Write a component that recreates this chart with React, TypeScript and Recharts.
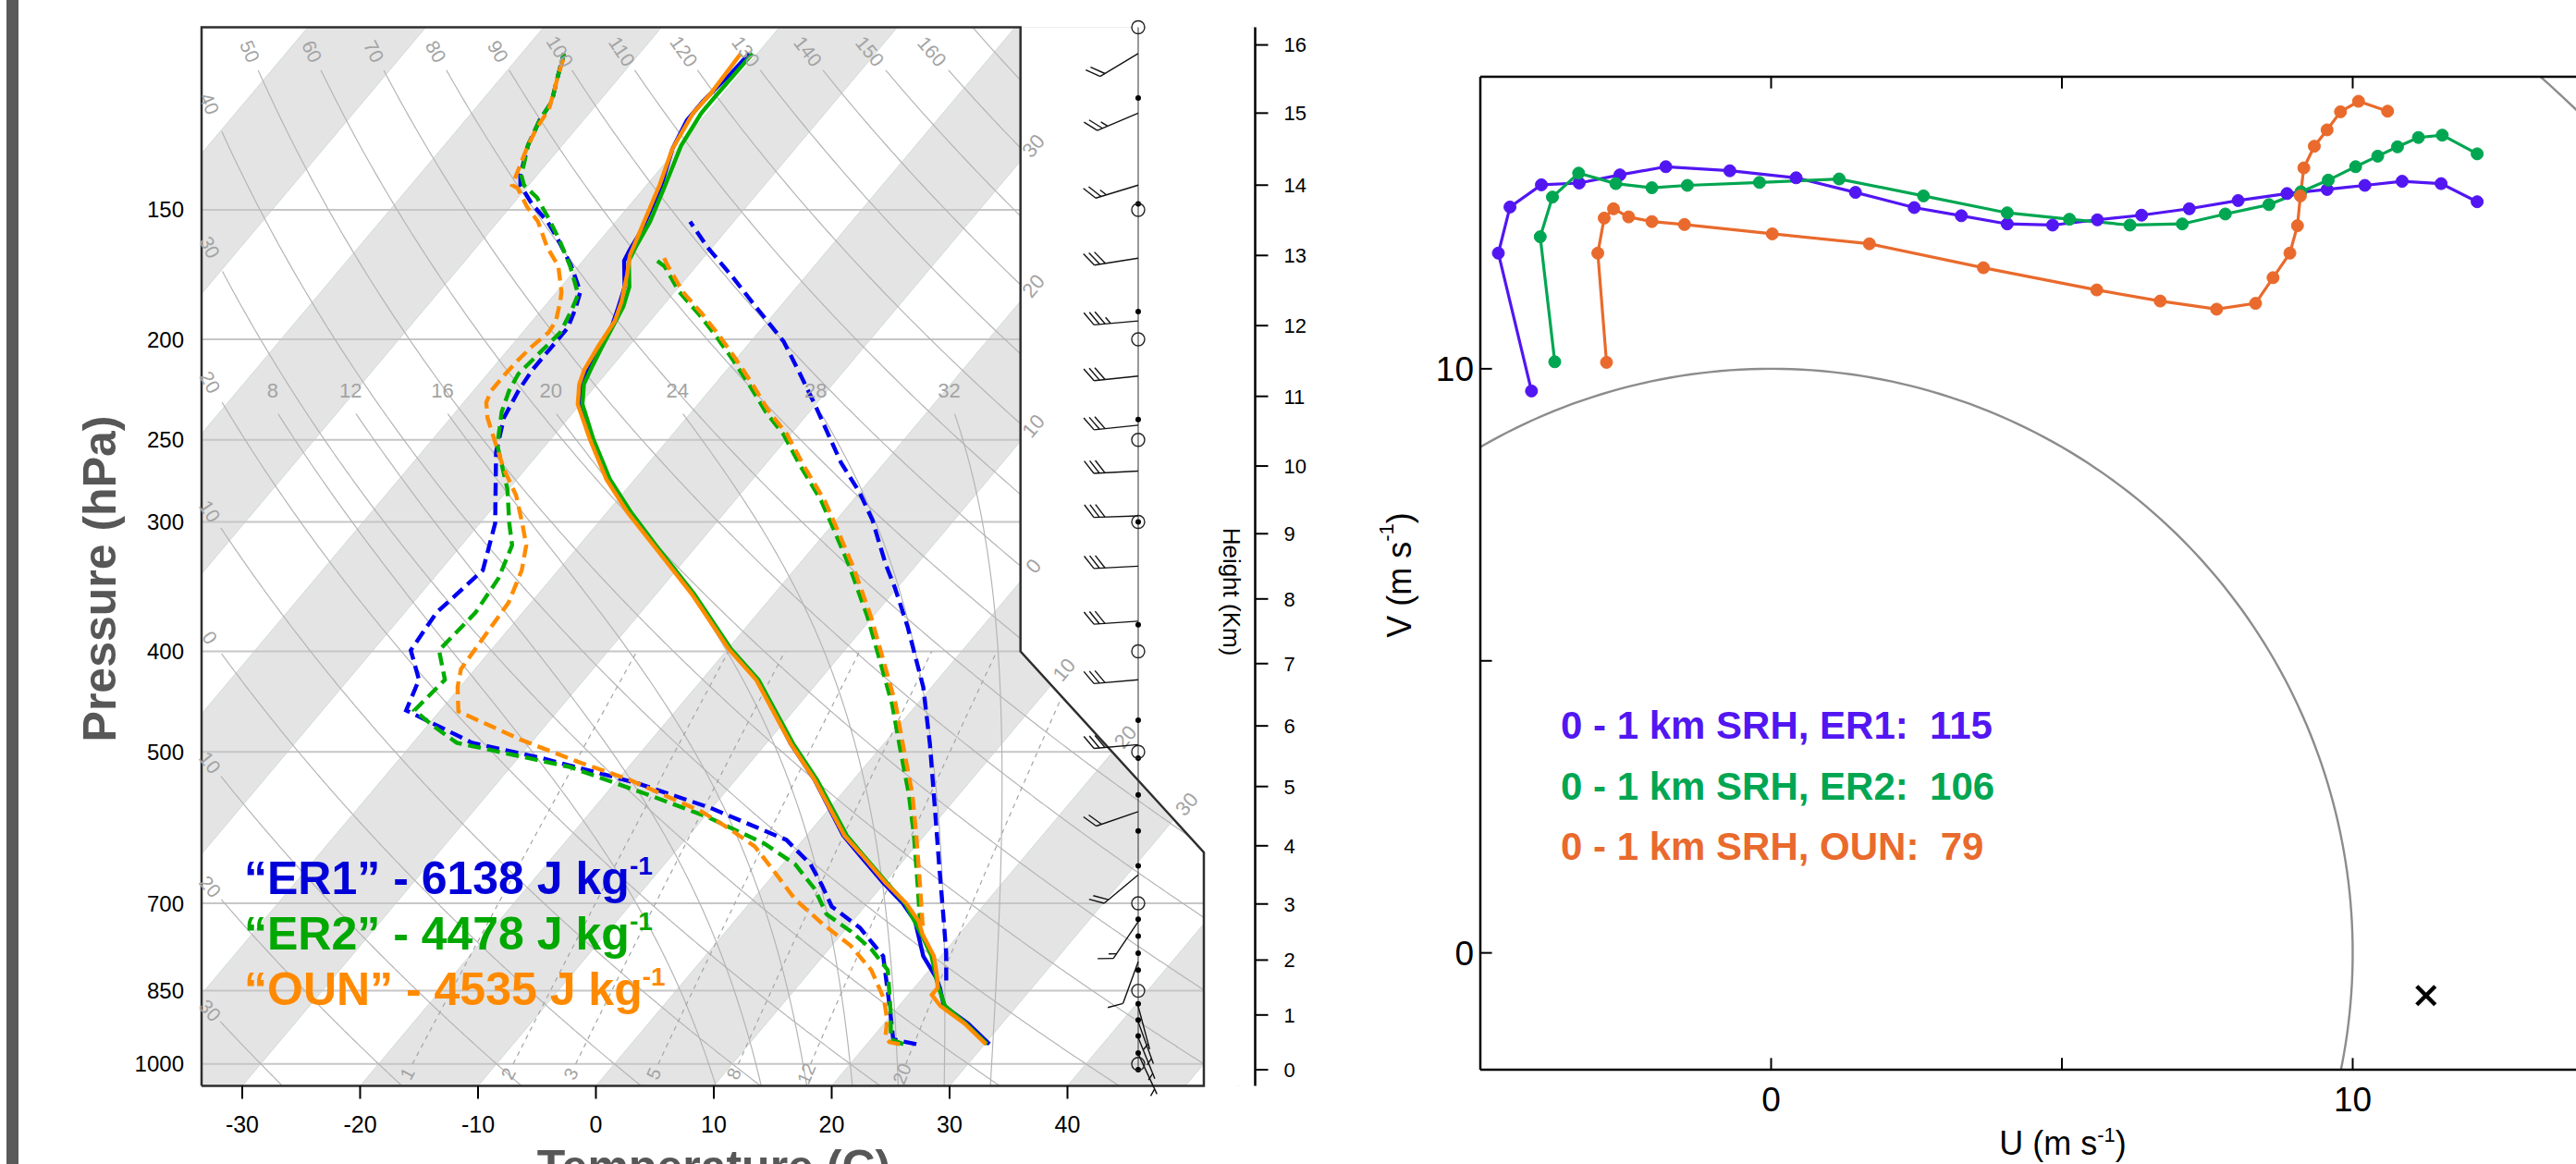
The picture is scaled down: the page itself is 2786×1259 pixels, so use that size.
import React from 'react';
import { ComposedChart, Line, Area, Scatter, XAxis, YAxis, ReferenceLine } from 'recharts';

const FONT = '"Liberation Sans", Arial, Helvetica, sans-serif';

/* ---------------- Skew-T sounding data: [pressure hPa, temperature °C] ---------------- */
const er1Temp = [[957,30.4],[914,27.1],[879,23.8],[845,22.2],[825,21.1],[787,18.5],[728,15.3],[700,13.0],[668,9.8],[627,5.7],[602,3.1],[532,-3.3],[491,-7.9],[426,-15.3],[398,-19.8],[352,-26.9],[316,-33.6],[294,-38.1],[273,-42.2],[249,-46.6],[231,-49.9],[221,-51.3],[213,-51.9],[204,-52.4],[194,-52.9],[187,-53.6],[178,-54.6],[168,-56.5],[164,-56.8],[157,-57.2],[143,-58.6],[131,-60.4],[123,-61.2],[118,-61.2],[114,-61.0],[111,-60.8],[106,-60.7]];
const er2Temp = [[957,30.2],[914,26.9],[879,23.9],[845,22.1],[825,21.1],[787,19.2],[750,16.8],[700,13.2],[668,10.1],[627,6.0],[602,3.4],[532,-3.1],[491,-7.7],[426,-15.2],[398,-19.7],[352,-26.8],[316,-33.5],[294,-37.9],[273,-42.1],[249,-46.5],[231,-49.8],[221,-51.1],[212,-51.7],[204,-52.2],[194,-52.8],[186,-53.3],[178,-54.2],[168,-56.1],[163,-56.5],[154,-57.1],[143,-58.3],[130,-59.9],[121,-60.5],[116,-60.5],[106,-60.4]];
const ounTemp = [[957,30.1],[914,26.8],[879,23.5],[858,22.0],[845,22.0],[825,21.2],[787,19.4],[750,16.9],[728,15.6],[700,13.3],[668,10.0],[627,5.9],[602,3.2],[532,-3.3],[491,-7.9],[426,-15.4],[398,-19.9],[352,-27.0],[316,-33.7],[294,-38.2],[273,-42.4],[249,-46.8],[231,-50.2],[221,-51.5],[214,-52.1],[203,-52.6],[192,-53.0],[184,-53.8],[173,-55.3],[166,-56.4],[156,-57.4],[142,-58.9],[131,-60.4],[121,-61.2],[116,-61.1],[106,-61.4]];

const er1Dew = [[957,24.2],[947,21.9],[879,19.2],[787,15.1],[739,11.1],[705,7.2],[673,4.9],[642,2.4],[608,-1.4],[566,-10.2],[536,-18.1],[507,-28.0],[490,-35.0],[469,-39.8],[456,-42.9],[426,-44.0],[399,-46.8],[367,-47.3],[334,-46.4],[301,-48.7],[257,-53.7],[238,-55.5],[224,-56.2],[214,-56.5],[204,-56.5],[195,-56.5],[187,-57.2],[180,-58.0],[170,-60.6],[160,-63.7],[154,-65.8],[148,-68.4],[142,-70.7],[139,-71.4],[130,-72.9],[123,-73.7],[118,-74.0],[112,-75.2],[108,-76.0],[106,-76.4]];
const er2Dew = [[957,23.1],[947,21.7],[893,19.8],[812,16.5],[775,13.6],[745,10.6],[717,7.3],[678,4.5],[642,1.1],[613,-3.0],[577,-9.9],[549,-16.6],[517,-25.0],[490,-36.3],[472,-39.5],[456,-42.2],[426,-41.8],[399,-44.4],[367,-44.0],[340,-44.5],[316,-45.7],[301,-47.5],[279,-50.1],[253,-54.1],[235,-56.1],[224,-57.0],[216,-57.4],[206,-57.1],[197,-56.8],[188,-57.4],[181,-58.0],[170,-60.7],[160,-63.6],[153,-65.9],[146,-68.4],[142,-70.4],[139,-71.3],[130,-72.9],[123,-73.7],[118,-74.0],[112,-75.2],[108,-76.0],[106,-76.4]];
const ounDew = [[957,22.8],[953,21.8],[943,21.1],[907,20.0],[865,18.2],[812,15.1],[769,11.6],[733,7.7],[694,3.6],[652,-0.2],[617,-3.6],[594,-6.9],[571,-10.6],[532,-19.0],[511,-24.7],[487,-31.0],[457,-38.4],[433,-40.2],[416,-41.2],[391,-41.5],[359,-41.9],[334,-43.1],[316,-44.5],[301,-46.4],[283,-48.9],[267,-51.8],[253,-54.2],[238,-56.9],[230,-58.1],[224,-58.5],[216,-58.5],[209,-58.4],[203,-58.2],[197,-57.8],[192,-58.0],[184,-59.0],[180,-59.6],[170,-61.7],[163,-64.0],[154,-66.6],[149,-68.6],[143,-70.7],[142,-71.4],[137,-72.0],[130,-72.9],[125,-73.4],[120,-73.7],[115,-74.6],[111,-75.4],[106,-76.3]];

const er1Parcel = [[831,22.2],[781,20.2],[717,17.2],[642,13.3],[571,9.2],[491,3.9],[433,-0.7],[379,-6.3],[348,-10.1],[330,-12.6],[316,-14.5],[299,-16.9],[281,-20.0],[263,-23.7],[231,-30.1],[216,-33.5],[201,-37.2],[188,-41.4],[174,-46.2],[163,-50.4],[154,-53.7]];
const er2Parcel = [[736,16.1],[673,13.0],[602,9.1],[549,5.7],[491,1.3],[450,-2.1],[407,-6.4],[370,-10.5],[331,-15.6],[306,-19.4],[286,-22.7],[265,-26.9],[247,-30.6],[235,-33.7],[221,-37.1],[209,-40.3],[198,-43.5],[189,-46.4],[180,-49.6],[170,-52.7],[167,-54.2]];
const ounParcel = [[736,16.3],[673,13.2],[602,9.3],[549,6.0],[491,1.6],[450,-1.8],[407,-6.1],[370,-10.2],[331,-15.3],[306,-19.1],[286,-22.4],[265,-26.6],[247,-30.3],[235,-33.4],[221,-36.8],[209,-40.0],[198,-43.2],[189,-46.1],[180,-49.3],[170,-52.4],[166,-53.6]];

const pressureTicks = [1000, 850, 700, 500, 400, 300, 250, 200, 150];
const temperatureTicks = [-30, -20, -10, 0, 10, 20, 30, 40];
const heightKm = [0, 1, 2, 3, 4, 5, 6, 7, 8, 9, 10, 11, 12, 13, 14, 15, 16];
const heightPressure = [1013, 897, 794, 701, 616, 540, 472, 411, 356, 308, 265, 227, 194, 166, 142, 121, 104];

const capeNames = ['ER1', 'ER2', 'OUN'];
const capeValues = [6138, 4478, 4535];
const skewColors = ['#0000f0', '#00ad00', '#ff8c00'];
const capeColors = ['#0000d8', '#00a800', '#ff8a00'];

/* background reference lines */
const isobars = [1000, 850, 700, 500, 400, 300, 250, 200, 150];
const bandStarts = [-100, -80, -60, -40, -20, 0, 20, 40];
const dryThetas = [-30, -20, -10, 0, 10, 20, 30, 40, 50, 60, 70, 80, 90, 100, 110, 120, 130, 140, 150, 160, 170];
const moistThetaW = [8, 12, 16, 20, 24, 28, 32];
const mixingRatios = [1, 2, 3, 5, 8, 12, 20];
const isothermLabelTemps = [-30, -20, -10, 0, 10, 20, 30];

/* wind barbs: pressure hPa, direction deg, speed kt */
const barbPressure = [106, 121, 142, 167, 192, 217, 242, 268, 296, 331, 374, 426, 492, 571, 657, 729, 797, 880, 911, 943, 978];
const barbDirection = [239, 247, 253, 261, 265, 264, 264, 267, 268, 267, 266, 265, 265, 251, 230, 214, 200, 165, 160, 158, 155];
const barbSpeed = [20, 25, 25, 30, 35, 30, 30, 30, 30, 30, 30, 30, 30, 20, 20, 15, 10, 5, 5, 5, 5];
const staffDotPressure = [117, 148, 188, 239, 300, 377, 466, 507, 550, 596, 644, 725, 753, 782, 812, 875, 907, 940, 976, 1013];
const staffCirclePressure = [100, 150, 200, 250, 300, 400, 500, 700, 850, 1000];

/* ---------------- Hodograph data: [u, v] m/s ---------------- */
const er1Hodo = [[-4.12,9.62],[-4.69,11.98],[-4.49,12.77],[-3.95,13.15],[-3.30,13.18],[-2.60,13.32],[-1.81,13.46],[-0.71,13.39],[0.43,13.27],[1.45,13.02],[2.46,12.76],[3.27,12.62],[4.06,12.48],[4.84,12.46],[5.61,12.55],[6.37,12.63],[7.19,12.74],[8.03,12.88],[8.87,13.00],[9.56,13.07],[10.21,13.14],[10.85,13.21],[11.52,13.17],[12.14,12.86]];
const er2Hodo = [[-3.72,10.12],[-3.97,12.26],[-3.76,12.94],[-3.31,13.35],[-2.67,13.17],[-2.05,13.10],[-1.44,13.14],[-0.20,13.19],[1.17,13.25],[2.62,12.96],[4.06,12.67],[5.13,12.56],[6.17,12.46],[7.07,12.48],[7.81,12.65],[8.56,12.81],[9.11,13.03],[9.58,13.23],[10.05,13.46],[10.43,13.64],[10.77,13.80],[11.13,13.96],[11.54,14.00],[12.14,13.68]];
const ounHodo = [[-2.83,10.11],[-2.98,11.98],[-2.87,12.58],[-2.71,12.74],[-2.45,12.60],[-2.05,12.52],[-1.49,12.47],[0.02,12.31],[1.69,12.14],[3.65,11.73],[5.60,11.35],[6.69,11.16],[7.66,11.02],[8.33,11.12],[8.63,11.56],[8.92,11.98],[9.05,12.45],[9.10,12.96],[9.16,13.44],[9.34,13.81],[9.56,14.09],[9.79,14.40],[10.10,14.58],[10.60,14.41]];
const stormMotion = [[11.26, -0.73]];
const ringRadii = [10, 20];
const hodoColors = ['#5216f2', '#00a651', '#e96a2c'];
const srhNames = ['ER1', 'ER2', 'OUN'];
const srhValues = [115, 106, 79];

/* ---------------- Skew-T geometry (RadioSonde-style coordinates) ---------------- */
const skewty = (p) => 132.182 - 44.061 * Math.log10(p);
const skewtx = (t, y) => 0.54 * t + 0.90692 * y;
const Y_BOT = skewty(1050);
const Y_TOP = skewty(100);
const X_MIN = -18.91;
const X_MAX = skewtx(50, skewty(1000));
const X_RIGHT = 29.35;
const Y400 = skewty(400);
const Y625 = skewty(625);
const X_KINK = skewtx(5, Y400);

const SK = { w: 1480, h: 1259, top: 29.5, left: 20, right: 22.5, bottom: 34.5, yw: 198, hw: 100, xh: 50 };
const PLOT_W = SK.w - SK.left - SK.right - SK.yw - SK.hw;
const PLOT_H = SK.h - SK.top - SK.bottom - SK.xh;
const PXX = PLOT_W / (X_RIGHT - X_MIN);
const PXY = PLOT_H / (Y_TOP - Y_BOT);

const toSkew = (arr) => arr.map(([p, t]) => { const y = skewty(p); return { x: skewtx(t, y), y }; });
const angleOf = (a, b) => (Math.atan2(-(b.y - a.y) * PXY, (b.x - a.x) * PXX) * 180) / Math.PI;

const bandAreas = bandStarts.map((t) => [
  { x: skewtx(t, Y_BOT), y: Y_BOT },
  { x: skewtx(t, Y_TOP), y: Y_TOP },
  { x: skewtx(t + 10, Y_TOP), y: Y_TOP },
  { x: skewtx(t + 10, Y_BOT), y: Y_BOT },
]);
const isobarLines = isobars.map((p) => [{ x: X_MIN, y: skewty(p) }, { x: X_RIGHT, y: skewty(p) }]);

const dryPt = (th, p) => { const y = skewty(p); return { x: skewtx((th + 273.15) * Math.pow(p / 1000, 0.2857) - 273.15, y), y }; };
const dryLines = [];
const dryLabels = [];
dryThetas.forEach((th) => {
  const pTop = th > 160 ? 100 : 110;
  const pts = [];
  let atEdge = false;
  for (let p = 1050; p >= pTop - 1e-6; p -= 2) {
    const pt = dryPt(th, p);
    if (pt.x < X_MIN + 0.85) { atEdge = true; break; }
    pts.push(pt);
  }
  dryLines.push(pts);
  if (th > 160) return;
  let lp = 105.5;
  if (atEdge) {
    for (let p = 1050; p > 90; p -= 0.5) { if (dryPt(th, p).x <= X_MIN + 0.4) { lp = p; break; } }
  }
  const pt = dryPt(th, lp);
  dryLabels.push({ x: pt.x, y: pt.y, label: String(Math.abs(th)), angle: angleOf(dryPt(th, lp - 3), dryPt(th, lp + 3)), fs: 21 });
});

const moistGrad = (p, T) => {
  const Rd = 287.04, Cp = 1005.7, Lv = 2.501e6, eps = 0.622;
  const tc = T - 273.15;
  const es = 6.112 * Math.exp((17.67 * tc) / (tc + 243.5));
  const rs = (eps * es) / (p - es);
  return (Rd * T + Lv * rs) / (Cp + (Lv * Lv * rs * eps) / (Rd * T * T)) / p;
};
const rk4 = (p, T, dp) => {
  const k1 = moistGrad(p, T);
  const k2 = moistGrad(p + dp / 2, T + (dp / 2) * k1);
  const k3 = moistGrad(p + dp / 2, T + (dp / 2) * k2);
  const k4 = moistGrad(p + dp, T + dp * k3);
  return T + (dp / 6) * (k1 + 2 * k2 + 2 * k3 + k4);
};
const moistLines = [];
const moistLabels = [];
moistThetaW.forEach((tw) => {
  const below = [];
  let T = tw + 273.15;
  for (let p = 1000; p < 1050; p += 5) { T = rk4(p, T, 5); below.push([p + 5, T - 273.15]); }
  const above = [[1000, tw]];
  T = tw + 273.15;
  for (let p = 1000; p > 236; p -= 4) { T = rk4(p, T, -4); above.push([p - 4, T - 273.15]); }
  const pts = toSkew([...below.reverse(), ...above]);
  moistLines.push(pts);
  const end = pts[pts.length - 1];
  moistLabels.push({ x: end.x - 0.25, y: skewty(224), label: String(tw), angle: 0, fs: 22 });
});

const tdFromW = (w, p) => { const e = ((w / 1000) * p) / (0.622 + w / 1000); const l = Math.log(e / 6.112); return (243.5 * l) / (17.67 - l); };
const mixPt = (w, p) => { const y = skewty(p); return { x: skewtx(tdFromW(w, p), y), y }; };
const mixLines = mixingRatios.map((w) => { const pts = []; for (let p = 1000; p >= 400; p -= 10) pts.push(mixPt(w, p)); return pts; });
const mixLabels = mixingRatios.map((w) => { const pt = mixPt(w, 1022); return { x: pt.x, y: pt.y, label: String(w), angle: angleOf(mixPt(w, 1030), mixPt(w, 1010)), fs: 20 }; });

const isoAngle = angleOf({ x: 0, y: 0 }, { x: 0.90692, y: 1 });
const isothermLabels = isothermLabelTemps.map((t) => {
  let ex, ey;
  const yEdge = (X_KINK - 0.54 * t) / 0.90692;
  if (yEdge >= Y400) { ex = X_KINK; ey = yEdge; }
  else {
    const dx = X_MAX - X_KINK, dy = Y625 - Y400;
    const s = (0.54 * t + 0.90692 * Y400 - X_KINK) / (dx - 0.90692 * dy);
    ex = X_KINK + s * dx; ey = Y400 + s * dy;
  }
  return { x: ex + 0.59, y: ey + 0.65, label: String(Math.abs(t)), angle: isoAngle, fs: 22 };
});

const maskPts = [{ x: X_KINK, y: Y400 }, { x: X_MAX, y: Y625 }, { x: X_MAX, y: Y_BOT }, { x: X_RIGHT, y: Y_BOT }];
const framePts = [{ x: X_MIN, y: Y_BOT }, { x: X_MIN, y: Y_TOP }, { x: X_KINK, y: Y_TOP }, { x: X_KINK, y: Y400 }, { x: X_MAX, y: Y625 }, { x: X_MAX, y: Y_BOT }, { x: X_MIN, y: Y_BOT }];

const STAFF_X = -17.05 + (1231 - 262) / 23.61;
const staffLine = [{ x: STAFF_X, y: skewty(100) }, { x: STAFF_X, y: skewty(1013) }];
const barbs = barbPressure.map((p, i) => ({ x: STAFF_X, y: skewty(p), dir: barbDirection[i], spd: barbSpeed[i] }));
const staffDots = staffDotPressure.map((p) => ({ x: STAFF_X, y: skewty(p) }));
const staffCircles = staffCirclePressure.map((p) => ({ x: STAFF_X, y: skewty(p) }));

const tempTickX = temperatureTicks.map((t) => skewtx(t, Y_BOT));
const pressTickY = pressureTicks.map((p) => skewty(p));
const heightTickY = heightPressure.map((p) => skewty(p));
const fmtTemp = (v) => String(Math.round((v - 0.90692 * Y_BOT) / 0.54));
const fmtPress = (v) => { let best = pressureTicks[0]; pressureTicks.forEach((p) => { if (Math.abs(skewty(p) - v) < Math.abs(skewty(best) - v)) best = p; }); return String(best); };
const fmtHeight = (v) => { let bi = 0; heightTickY.forEach((h, i) => { if (Math.abs(h - v) < Math.abs(heightTickY[bi] - v)) bi = i; }); return String(heightKm[bi]); };

const RotLabel = (props) => {
  const { cx, cy, payload } = props;
  if (cx == null || cy == null) return null;
  return (
    <text x={cx} y={cy} fill="#a3a3a3" fontSize={payload.fs} fontFamily={FONT} textAnchor="middle" dominantBaseline="central" transform={`rotate(${payload.angle} ${cx} ${cy})`}>
      {payload.label}
    </text>
  );
};

const BarbShape = (props) => {
  const { cx, cy, payload } = props;
  if (cx == null || cy == null) return null;
  const th = (payload.dir * Math.PI) / 180;
  const dx = Math.sin(th), dy = -Math.cos(th);
  const L = 48, FL = 17, GAP = 6;
  const tx = cx + dx * L, ty = cy + dy * L;
  const a = (55 * Math.PI) / 180;
  const fx = dx * Math.cos(a) - dy * Math.sin(a);
  const fy = dx * Math.sin(a) + dy * Math.cos(a);
  const halves = Math.round(payload.spd / 5);
  const full = Math.floor(halves / 2);
  const half = halves % 2;
  const segs = [];
  let pos = 0;
  for (let i = 0; i < full; i++) {
    const px = tx - dx * pos, py = ty - dy * pos;
    segs.push(<line key={i} x1={px} y1={py} x2={px + fx * FL} y2={py + fy * FL} />);
    pos += GAP;
  }
  if (half) {
    if (full === 0) pos = GAP;
    const px = tx - dx * pos, py = ty - dy * pos;
    segs.push(<line key="h" x1={px} y1={py} x2={px + (fx * FL) / 2} y2={py + (fy * FL) / 2} />);
  }
  return (
    <g stroke="#111" strokeWidth={1.4} fill="none">
      <line x1={cx} y1={cy} x2={tx} y2={ty} />
      {segs}
    </g>
  );
};
const DotShape = (props) => (props.cx == null ? null : <circle cx={props.cx} cy={props.cy} r={3} fill="#000" />);
const CircleShape = (props) => (props.cx == null ? null : <circle cx={props.cx} cy={props.cy} r={7} fill="none" stroke="#222" strokeWidth={1.4} />);

const lineCommon = { type: 'linear', dot: false, activeDot: false, isAnimationActive: false, legendType: 'none' };

function SkewT() {
  const series = [
    { dew: er1Dew, temp: er1Temp, parcel: er1Parcel },
    { dew: er2Dew, temp: er2Temp, parcel: er2Parcel },
    { dew: ounDew, temp: ounTemp, parcel: ounParcel },
  ];
  return (
    <ComposedChart width={SK.w} height={SK.h} margin={{ top: SK.top, right: SK.right, bottom: SK.bottom, left: SK.left }}>
      <XAxis xAxisId="t" type="number" dataKey="x" domain={[X_MIN, X_RIGHT]} allowDataOverflow ticks={tempTickX} interval={0} tickFormatter={fmtTemp} tickSize={14} tickMargin={19} tickLine={{ stroke: '#000', strokeWidth: 2 }} axisLine={false} height={SK.xh} tick={{ fontSize: 25, fill: '#000', fontFamily: FONT }} />
      <XAxis xAxisId="f" orientation="top" height={0} type="number" dataKey="x" domain={[X_MIN, X_RIGHT]} hide />
      <YAxis yAxisId="p" type="number" dataKey="y" domain={[Y_BOT, Y_TOP]} allowDataOverflow ticks={pressTickY} interval={0} tickFormatter={fmtPress} tickSize={0} tickMargin={19} tickLine={false} axisLine={false} width={SK.yw} tick={{ fontSize: 24, fill: '#000', fontFamily: FONT }} />
      <YAxis yAxisId="h" orientation="right" type="number" dataKey="y" domain={[Y_BOT, Y_TOP]} ticks={heightTickY} interval={0} tickFormatter={fmtHeight} tickSize={14} tickMargin={17} tickLine={{ stroke: '#000', strokeWidth: 2 }} axisLine={{ stroke: '#000', strokeWidth: 2.5 }} width={SK.hw} tick={{ fontSize: 22, fill: '#000', fontFamily: FONT }} />

      {bandAreas.map((d, i) => (
        <Area key={`band${i}`} xAxisId="t" yAxisId="p" data={d} dataKey="y" baseValue={Y_BOT} type="linear" stroke="#cfdcd6" strokeWidth={1} fill="#e4e4e4" fillOpacity={1} dot={false} activeDot={false} isAnimationActive={false} legendType="none" />
      ))}
      {isobarLines.map((d, i) => (
        <Line key={`iso${i}`} xAxisId="t" yAxisId="p" data={d} dataKey="y" stroke="#c6c6c6" strokeWidth={2} {...lineCommon} />
      ))}
      {dryLines.map((d, i) => (
        <Line key={`dry${i}`} xAxisId="t" yAxisId="p" data={d} dataKey="y" stroke="#b5b5b5" strokeWidth={1.2} {...lineCommon} />
      ))}
      {moistLines.map((d, i) => (
        <Line key={`moist${i}`} xAxisId="t" yAxisId="p" data={d} dataKey="y" stroke="#b5b5b5" strokeWidth={1.2} {...lineCommon} />
      ))}
      {mixLines.map((d, i) => (
        <Line key={`mix${i}`} xAxisId="t" yAxisId="p" data={d} dataKey="y" stroke="#a5a5a5" strokeWidth={1.2} strokeDasharray="5 5" {...lineCommon} />
      ))}

      {series.map((s, i) => (
        <Line key={`dew${i}`} xAxisId="t" yAxisId="p" data={toSkew(s.dew)} dataKey="y" stroke={skewColors[i]} strokeWidth={4.4} strokeDasharray="14 7" {...lineCommon} />
      ))}
      {series.map((s, i) => (
        <Line key={`par${i}`} xAxisId="t" yAxisId="p" data={toSkew(s.parcel)} dataKey="y" stroke={skewColors[i]} strokeWidth={4.4} strokeDasharray="14 7" {...lineCommon} />
      ))}
      {series.map((s, i) => (
        <Line key={`tmp${i}`} xAxisId="t" yAxisId="p" data={toSkew(s.temp)} dataKey="y" stroke={skewColors[i]} strokeWidth={4.4} {...lineCommon} />
      ))}

      <Area xAxisId="t" yAxisId="p" data={maskPts} dataKey="y" baseValue={Y_TOP} type="linear" stroke="none" fill="#ffffff" fillOpacity={1} dot={false} activeDot={false} isAnimationActive={false} legendType="none" zIndex={450} />
      <Line xAxisId="f" yAxisId="h" data={framePts} dataKey="y" stroke="#2e2e2e" strokeWidth={2.5} {...lineCommon} zIndex={460} />

      <Scatter xAxisId="f" yAxisId="h" data={[...dryLabels, ...moistLabels, ...mixLabels, ...isothermLabels]} shape={RotLabel} isAnimationActive={false} legendType="none" />
      <Line xAxisId="f" yAxisId="h" data={staffLine} dataKey="y" stroke="#333" strokeWidth={1} {...lineCommon} zIndex={470} />
      <Scatter xAxisId="f" yAxisId="h" data={barbs} shape={BarbShape} isAnimationActive={false} legendType="none" />
      <Scatter xAxisId="f" yAxisId="h" data={staffDots} shape={DotShape} isAnimationActive={false} legendType="none" />
      <Scatter xAxisId="f" yAxisId="h" data={staffCircles} shape={CircleShape} isAnimationActive={false} legendType="none" />
    </ComposedChart>
  );
}

/* ---------------- Hodograph ---------------- */
const HD = { w: 1500, h: 1259, top: 83, left: 41, right: 121, bottom: 42, yw: 80, xh: 60 };
const ringLines = ringRadii.map((r) => { const pts = []; for (let a = 0; a <= 360; a += 1) pts.push({ u: r * Math.cos((a * Math.PI) / 180), v: r * Math.sin((a * Math.PI) / 180) }); return pts; });
const hodoSeries = [er1Hodo, er2Hodo, ounHodo].map((arr) => arr.map(([u, v]) => ({ u, v })));
const hodoTickU = [0, 5, 10];
const hodoTickV = [0, 5, 10];
const CrossShape = (props) => {
  const { cx, cy } = props;
  if (cx == null) return null;
  const s = 10;
  return (
    <g stroke="#000" strokeWidth={4.5}>
      <line x1={cx - s} y1={cy - s} x2={cx + s} y2={cy + s} />
      <line x1={cx - s} y1={cy + s} x2={cx + s} y2={cy - s} />
    </g>
  );
};

function Hodograph() {
  const tickStyle = { fontSize: 37, fill: '#000', fontFamily: FONT };
  return (
    <ComposedChart width={HD.w} height={HD.h} margin={{ top: HD.top, right: HD.right, bottom: HD.bottom, left: HD.left }}>
      <XAxis xAxisId="u" type="number" dataKey="u" domain={[-5, 15]} allowDataOverflow ticks={[0, 10]} interval={0} tickLine={false} tickSize={0} tickMargin={19} axisLine={{ stroke: '#000', strokeWidth: 2.5 }} height={HD.xh} tick={tickStyle} />
      <YAxis yAxisId="v" type="number" dataKey="v" domain={[-2, 15]} allowDataOverflow ticks={[0, 10]} interval={0} tickLine={false} tickSize={0} tickMargin={7} axisLine={{ stroke: '#000', strokeWidth: 2.5 }} width={HD.yw} tick={tickStyle} />
      {ringLines.map((d, i) => (
        <Line key={`ring${i}`} xAxisId="u" yAxisId="v" data={d} dataKey="v" stroke="#8c8c8c" strokeWidth={2.4} {...lineCommon} />
      ))}
      <ReferenceLine xAxisId="u" yAxisId="v" y={15} stroke="#000" strokeWidth={2.5} ifOverflow="visible" />
      {hodoTickU.map((u) => (
        <ReferenceLine key={`bt${u}`} xAxisId="u" yAxisId="v" segment={[{ x: u, y: -2 }, { x: u, y: -1.8 }]} stroke="#000" strokeWidth={2} ifOverflow="visible" />
      ))}
      {hodoTickU.map((u) => (
        <ReferenceLine key={`tt${u}`} xAxisId="u" yAxisId="v" segment={[{ x: u, y: 15 }, { x: u, y: 14.8 }]} stroke="#000" strokeWidth={2} ifOverflow="visible" />
      ))}
      {hodoTickV.map((v) => (
        <ReferenceLine key={`lt${v}`} xAxisId="u" yAxisId="v" segment={[{ x: -5, y: v }, { x: -4.8, y: v }]} stroke="#000" strokeWidth={2} ifOverflow="visible" />
      ))}
      {hodoSeries.map((d, i) => (
        <Line key={`hodo${i}`} xAxisId="u" yAxisId="v" data={d} dataKey="v" type="linear" stroke={hodoColors[i]} strokeWidth={3.2} dot={{ r: 6.5, fill: hodoColors[i], stroke: hodoColors[i], strokeWidth: 1 }} activeDot={false} isAnimationActive={false} legendType="none" />
      ))}
      <Scatter xAxisId="u" yAxisId="v" data={stormMotion.map(([u, v]) => ({ u, v }))} shape={CrossShape} isAnimationActive={false} legendType="none" />
    </ComposedChart>
  );
}

export default function App() {
  return (
    <div style={{ position: 'absolute', left: 0, top: 0, width: 2786, height: 1259, overflow: 'hidden', background: '#fff', fontFamily: FONT }}>
      <div style={{ position: 'absolute', left: 7, top: 0, width: 13, height: 1259, background: '#5a5a5a' }} />
      <div style={{ position: 'absolute', left: 0, top: 0 }}>
        <SkewT />
      </div>
      <div style={{ position: 'absolute', left: 1480, top: 0 }}>
        <Hodograph />
      </div>
      <svg width={2786} height={1259} style={{ position: 'absolute', left: 0, top: 0, pointerEvents: 'none' }} fontFamily={FONT}>
        <text x={108} y={626} transform="rotate(-90 108 626)" textAnchor="middle" dominantBaseline="central" fontSize={50} fontWeight="bold" fill="#575757">Pressure (hPa)</text>
        <text x={772} y={1279} textAnchor="middle" fontSize={50} fontWeight="bold" fill="#575757">Temperature (C)</text>
        <text x={1332} y={640} transform="rotate(90 1332 640)" textAnchor="middle" dominantBaseline="central" fontSize={26} fill="#000">Height (Km)</text>
        {capeNames.map((n, i) => (
          <text key={n} x={264} y={967 + i * 60.2} fontSize={50} fontWeight="bold" fill={capeColors[i]}>
            {`\u201C${n}\u201D - ${capeValues[i]} J kg`}
            <tspan fontSize={28} dy={-21}>-1</tspan>
          </text>
        ))}
        {srhNames.map((n, i) => (
          <text key={n} x={1688} y={799 + i * 65.6} fontSize={42} fontWeight="bold" fill={hodoColors[i]} style={{ whiteSpace: 'pre' }}>
            {`0 - 1 km SRH, ${n}:  ${srhValues[i]}`}
          </text>
        ))}
        <text x={2231} y={1249} textAnchor="middle" fontSize={36} fill="#000">
          U (m s<tspan fontSize={22} dy={-14}>-1</tspan><tspan dy={14}>)</tspan>
        </text>
        <text x={1513} y={622} transform="rotate(-90 1513 622)" textAnchor="middle" dominantBaseline="central" fontSize={36} fill="#000">
          V (m s<tspan fontSize={22} dy={-14}>-1</tspan><tspan dy={14}>)</tspan>
        </text>
      </svg>
    </div>
  );
}
